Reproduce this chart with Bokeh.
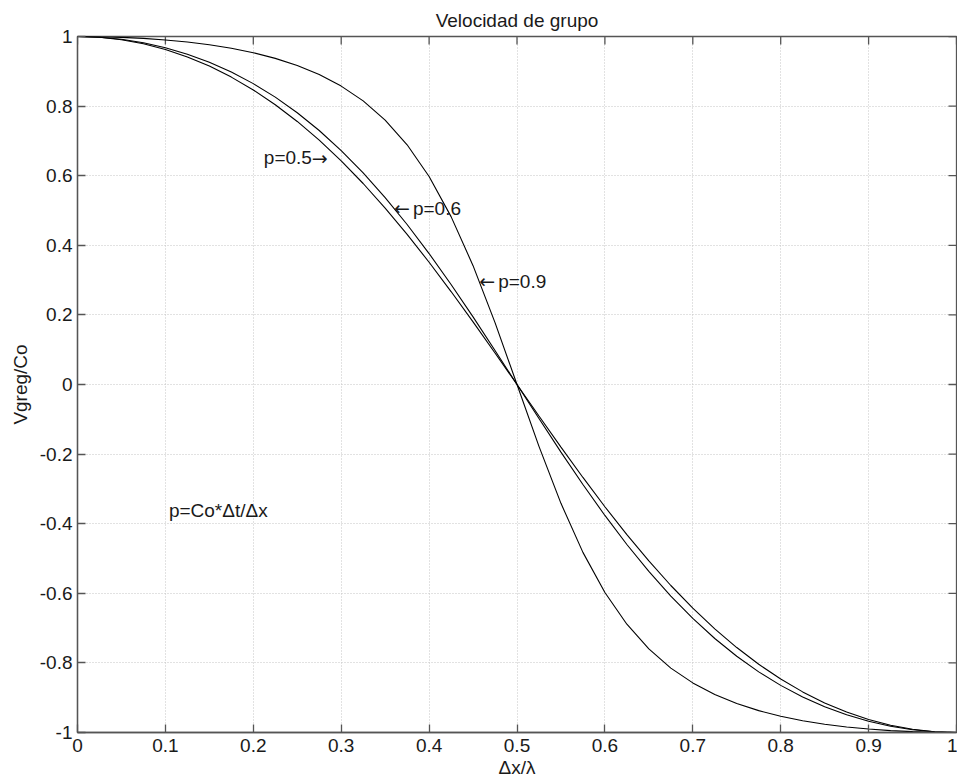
import math
from bokeh.plotting import figure
from bokeh.models import FixedTicker, Range1d
from bokeh.core.properties import value
from bokeh.embed import file_html
from bokeh.resources import INLINE

# ---- data ----
dx_lambda = [0.0, 0.025, 0.05, 0.075, 0.1, 0.125, 0.15, 0.175, 0.2, 0.225,
             0.25, 0.275, 0.3, 0.325, 0.35, 0.375, 0.4, 0.425, 0.45, 0.475,
             0.5, 0.525, 0.55, 0.575, 0.6, 0.625, 0.65, 0.675, 0.7, 0.725,
             0.75, 0.775, 0.8, 0.825, 0.85, 0.875, 0.9, 0.925, 0.95, 0.975, 1.0]

vg_p05 = [1.0, 0.9977, 0.9907, 0.9791, 0.9626, 0.9413, 0.9149, 0.8833, 0.8464, 0.8040,
          0.7559, 0.7022, 0.6427, 0.5776, 0.5071, 0.4315, 0.3513, 0.2671, 0.1799, 0.0905,
          0.0, -0.0905, -0.1799, -0.2671, -0.3513, -0.4315, -0.5071, -0.5776, -0.6427, -0.7022,
          -0.7559, -0.8040, -0.8464, -0.8833, -0.9149, -0.9413, -0.9626, -0.9791, -0.9907, -0.9977, -1.0]

vg_p06 = [1.0, 0.9980, 0.9921, 0.9821, 0.9678, 0.9492, 0.9260, 0.8979, 0.8646, 0.8257,
          0.7809, 0.7298, 0.6723, 0.6081, 0.5372, 0.4598, 0.3763, 0.2874, 0.1942, 0.0979,
          0.0, -0.0979, -0.1942, -0.2874, -0.3763, -0.4598, -0.5372, -0.6081, -0.6723, -0.7298,
          -0.7809, -0.8257, -0.8646, -0.8979, -0.9260, -0.9492, -0.9678, -0.9821, -0.9921, -0.9980, -1.0]

vg_p09 = [1.0, 0.9994, 0.9976, 0.9946, 0.9901, 0.9841, 0.9762, 0.9661, 0.9533, 0.9372,
          0.9167, 0.8907, 0.8575, 0.8149, 0.7599, 0.6889, 0.5976, 0.4824, 0.3415, 0.1777,
          0.0, -0.1777, -0.3415, -0.4824, -0.5976, -0.6889, -0.7599, -0.8149, -0.8575, -0.8907,
          -0.9167, -0.9372, -0.9533, -0.9661, -0.9762, -0.9841, -0.9901, -0.9946, -0.9976, -0.9994, -1.0]

x_ticks = [0, 0.1, 0.2, 0.3, 0.4, 0.5, 0.6, 0.7, 0.8, 0.9, 1]
x_tick_labels = ["0", "0.1", "0.2", "0.3", "0.4", "0.5", "0.6", "0.7", "0.8", "0.9", "1"]
y_ticks = [-1, -0.8, -0.6, -0.4, -0.2, 0, 0.2, 0.4, 0.6, 0.8, 1]
y_tick_labels = ["-1", "-0.8", "-0.6", "-0.4", "-0.2", "0", "0.2", "0.4", "0.6", "0.8", "1"]

# annotations: text, arrows
ann_x = [0.212, 0.360, 0.457, 0.104]
ann_y = [0.651, 0.506, 0.297, -0.363]
ann_text = ["p=0.5", "p=0.6", "p=0.9", "p=Co*\u0394t/\u0394x"]
ann_shift = [0, 19, 19, 0]            # screen px shift of text after a leading arrow
arrow_x = [0.212, 0.360, 0.457]
arrow_y = [0.651, 0.506, 0.297]
arrow_text = ["\u2192", "\u2190", "\u2190"]
arrow_shift = [48, 0, 0]

title_text = "Velocidad de grupo"
x_label = "\u0394x/\u03bb"
y_label = "Vgreg/Co"

# ---- styling ----
FONT = "Liberation Sans"
FS = "19px"
AXC = "#555555"
TXT = "#1a1a1a"

p = figure(width=957, height=784, output_backend="svg", toolbar_location=None,
           x_range=Range1d(0, 1), y_range=Range1d(-1, 1),
           min_border_left=77, min_border_right=1, min_border_top=36, min_border_bottom=52)
p.background_fill_color = "white"
p.border_fill_color = "white"
p.outline_line_color = AXC
p.outline_line_width = 1.3

p.title.text = title_text
p.title.align = "center"
p.title.text_font = FONT
p.title.text_font_size = FS
p.title.text_font_style = "normal"
p.title.text_color = TXT
p.title.standoff = 12

p.xgrid.ticker = FixedTicker(ticks=x_ticks)
p.ygrid.ticker = FixedTicker(ticks=y_ticks)
p.grid.grid_line_color = "#c4c4c4"
p.grid.grid_line_dash = "1 2"
p.grid.grid_line_width = 1


def style_axis(ax, ticks, labels):
    ax.ticker = FixedTicker(ticks=ticks)
    ax.axis_line_color = AXC
    ax.axis_line_width = 1.3
    ax.major_tick_line_color = AXC
    ax.major_tick_line_width = 1.3
    ax.major_tick_in = 8
    ax.major_tick_out = 0
    ax.minor_tick_line_color = None
    ax.major_label_text_font = FONT
    ax.major_label_text_color = TXT
    ax.major_label_overrides = dict(zip(ticks, labels))
    ax.major_label_text_font_size = FS
    ax.axis_label_text_font = FONT
    ax.axis_label_text_font_size = FS
    ax.axis_label_text_font_style = "normal"
    ax.axis_label_text_color = TXT


xa = p.xaxis[0]
ya = p.yaxis[0]
style_axis(xa, x_ticks, x_tick_labels)
style_axis(ya, y_ticks, y_tick_labels)
xa.major_label_standoff = 6
ya.major_label_standoff = 5
xa.axis_label = x_label
ya.axis_label = y_label
xa.axis_label_standoff = 2
ya.axis_label_standoff = 6

# mirrored inward ticks on top and right edges
p.ray(x=x_ticks, y=[y_ticks[-1]] * len(x_ticks), length=8, length_units="screen",
      angle=-math.pi / 2, line_color=AXC, line_width=1.3)
p.ray(x=[x_ticks[-1]] * len(y_ticks), y=y_ticks, length=8, length_units="screen",
      angle=math.pi, line_color=AXC, line_width=1.3)

for vals in (vg_p05, vg_p06, vg_p09):
    p.line(dx_lambda, vals, line_color="black", line_width=1.1)

p.text(ann_x, ann_y, text=ann_text, x_offset=ann_shift, text_font=value(FONT),
       text_font_size=FS, text_color=TXT, text_align="left", text_baseline="middle")
p.text(arrow_x, arrow_y, text=arrow_text, x_offset=arrow_shift, text_font=value("DejaVu Sans"),
       text_font_size="19px", text_color=TXT, text_align="left", text_baseline="middle")

open("out.html", "w").write(file_html(p, INLINE))
